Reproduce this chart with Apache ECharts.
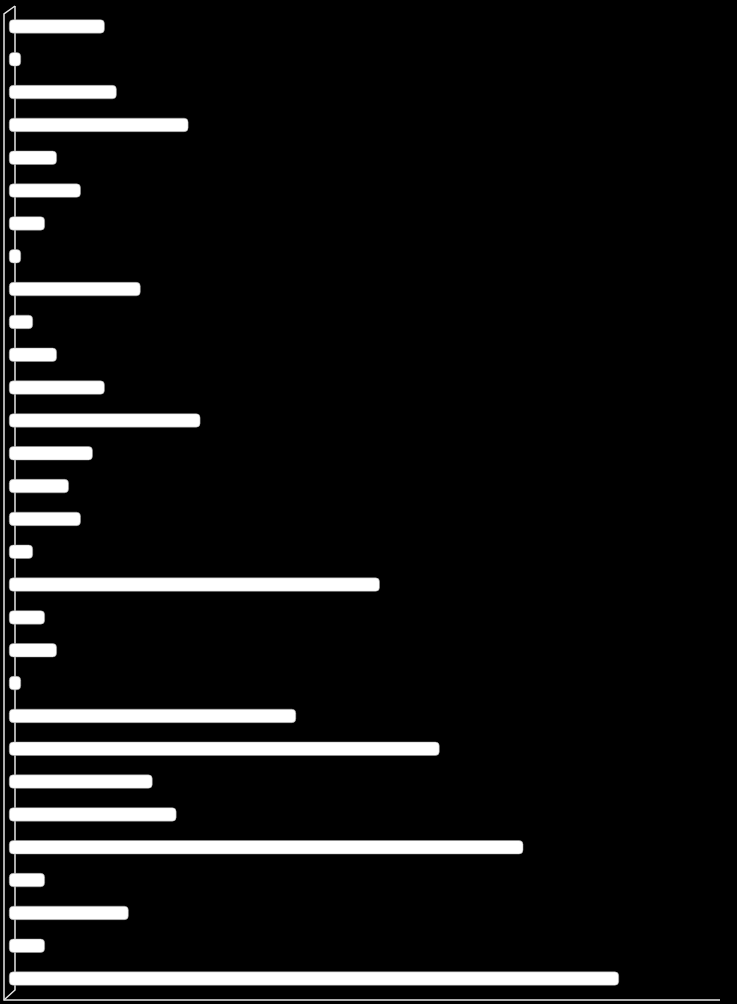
<!DOCTYPE html>
<html>
<head>
<meta charset="utf-8">
<title>Bars</title>
<script src="https://cdn.jsdelivr.net/npm/echarts@6/dist/echarts.min.js"></script>
<style>
  html, body { margin: 0; padding: 0; background: #000; }
  #main { width: 737px; height: 1004px; }
</style>
</head>
<body>
<div id="main"></div>
<script type="text/javascript">
// categories have no visible labels in the picture, top to bottom
var categories = [];
for (var i = 1; i <= 30; i++) {
  categories.push('' + i);
}
// bar values, top to bottom
var values = [8, 1, 9, 15, 4, 6, 3, 1, 11, 2, 4, 8, 16, 7, 5, 6, 2, 31, 3, 4, 1, 24, 36, 12, 14, 43, 3, 10, 3, 51];
var xMax = 60;

var myChart = echarts.init(document.getElementById('main'));
var lineStyle = { stroke: '#e6e6e6', lineWidth: 1.5 };

var option = {
  backgroundColor: '#000',
  animation: false,
  grid: { left: 9, right: 10.4, top: 10, bottom: 9 },
  xAxis: {
    type: 'value',
    min: 0,
    max: xMax,
    axisLine: { show: false },
    axisTick: { show: false },
    axisLabel: { show: false },
    splitLine: { show: false }
  },
  yAxis: {
    type: 'category',
    inverse: true,
    data: categories,
    axisLine: { show: false },
    axisTick: { show: false },
    axisLabel: { show: false }
  },
  // the 3d wall and floor edges
  graphic: [
    { type: 'polyline', z: 0, shape: { points: [[15, 6], [4, 14], [4, 1000], [720, 1000]] }, style: lineStyle },
    { type: 'polyline', z: 0, shape: { points: [[15, 6], [15, 990], [4, 1000]] }, style: lineStyle }
  ],
  series: [
    {
      type: 'bar',
      z: 5,
      data: values,
      barWidth: 14,
      itemStyle: {
        color: '#fff',
        borderColor: '#9a9a9a',
        borderWidth: 0.5,
        borderRadius: 4
      }
    }
  ]
};

myChart.setOption(option);
</script>
</body>
</html>
